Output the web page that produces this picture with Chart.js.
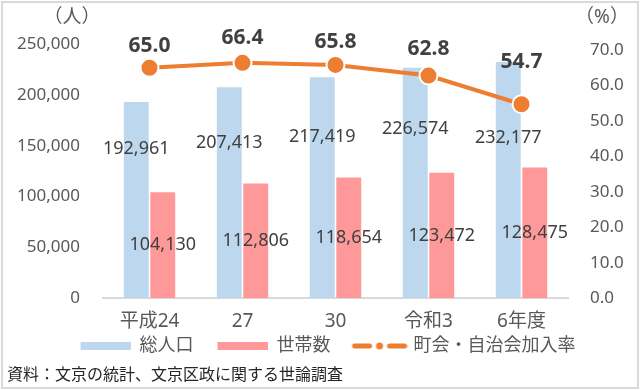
<!DOCTYPE html>
<html>
<head>
<meta charset="utf-8">
<script src="https://cdn.jsdelivr.net/npm/chart.js@4"></script>
<style>
  html, body { margin: 0; padding: 0; background: #fff; }
  #wrap { position: relative; width: 640px; height: 390px; }
</style>
</head>
<body>
<div id="wrap"><canvas id="chart" width="640" height="390"></canvas></div>
<script>
const years = ["平成24", "27", "30", "令和3", "6年度"];
const population = [192961, 207413, 217419, 226574, 232177];
const households = [104130, 112806, 118654, 123472, 128475];
const joinRate = [65.0, 66.4, 65.8, 62.8, 54.7];

const FONT = "'Noto Sans', 'Noto Sans CJK JP', sans-serif";
const BLUE = "#BDD7EE";
const PINK = "#FF9999";
const ORANGE = "#ED7D31";

// label tweaks (pixels), copied by eye from the original
const popLabelDrop = [47, 56, 60, 61, 76];
const rateLabelLift = [22, 25, 23, 27, 42];

// legend icons, left part kept empty so items get some air between them
function swatch(w, draw) {
  const c = document.createElement("canvas");
  c.width = w;
  c.height = 10;
  draw(c.getContext("2d"));
  return c;
}

const blueBox = swatch(70, g => { g.fillStyle = BLUE; g.fillRect(20, 1, 50, 8); });
const pinkBox = swatch(70, g => { g.fillStyle = PINK; g.fillRect(20, 1, 50, 8); });
const lineBox = swatch(76, g => {
  g.strokeStyle = ORANGE;
  g.fillStyle = ORANGE;
  g.lineWidth = 5;
  g.lineCap = "round";
  g.beginPath(); g.moveTo(23, 5); g.lineTo(38, 5); g.stroke();
  g.beginPath(); g.moveTo(58, 5); g.lineTo(73, 5); g.stroke();
  g.beginPath(); g.arc(48, 5, 3.5, 0, Math.PI * 2); g.fill();
});

const extras = {
  id: "extras",
  beforeDraw(chart) {
    const ctx = chart.ctx;
    ctx.save();
    ctx.fillStyle = "#fff";
    ctx.fillRect(0, 0, chart.width, chart.height);
    ctx.strokeStyle = "#D9D9D9";
    ctx.lineWidth = 2;
    ctx.strokeRect(2, 2, chart.width - 4, chart.height - 4);
    ctx.restore();
  },
  afterDatasetsDraw(chart) {
    const ctx = chart.ctx;
    ctx.save();
    ctx.textAlign = "center";
    ctx.textBaseline = "middle";

    ctx.fillStyle = "#404040";
    ctx.font = "18px " + FONT;
    chart.getDatasetMeta(0).data.forEach((bar, i) => {
      ctx.fillText(population[i].toLocaleString("en-US"), bar.x, bar.y + popLabelDrop[i]);
    });
    chart.getDatasetMeta(1).data.forEach((bar, i) => {
      ctx.fillText(households[i].toLocaleString("en-US"), bar.x, (bar.y + bar.base) / 2);
    });

    ctx.font = "bold 21px " + FONT;
    chart.getDatasetMeta(2).data.forEach((pt, i) => {
      ctx.fillText(joinRate[i].toFixed(1), pt.x, pt.y - rateLabelLift[i]);
    });

    // axis unit captions
    ctx.fillStyle = "#595959";
    ctx.font = "19px " + FONT;
    ctx.fillText("（人）", 72, 18);
    ctx.fillText("（%）", 602, 18);

    // source note
    ctx.textAlign = "left";
    ctx.fillStyle = "#262626";
    ctx.font = "16px " + FONT;
    ctx.fillText("資料：文京の統計、文京区政に関する世論調査", 7, 375);
    ctx.restore();
  }
};

new Chart(document.getElementById("chart"), {
  data: {
    labels: years,
    datasets: [
      {
        type: "bar",
        label: "総人口",
        data: population,
        backgroundColor: BLUE,
        yAxisID: "y",
        order: 2,
        categoryPercentage: 0.57,
        barPercentage: 0.94
      },
      {
        type: "bar",
        label: "世帯数",
        data: households,
        backgroundColor: PINK,
        yAxisID: "y",
        order: 2,
        categoryPercentage: 0.57,
        barPercentage: 0.94
      },
      {
        type: "line",
        label: "町会・自治会加入率",
        data: joinRate,
        borderColor: ORANGE,
        borderWidth: 4,
        pointRadius: 9,
        pointBackgroundColor: ORANGE,
        pointBorderColor: "#fff",
        pointBorderWidth: 2,
        yAxisID: "y1",
        order: 0
      }
    ]
  },
  options: {
    responsive: false,
    animation: false,
    layout: {
      padding: { left: 8, right: 12, top: 44, bottom: 25 }
    },
    plugins: {
      tooltip: { enabled: false },
      legend: {
        position: "bottom",
        labels: {
          usePointStyle: true,
          pointStyleWidth: 70,
          padding: 4,
          color: "#595959",
          font: { family: FONT, size: 18 },
          generateLabels(chart) {
            const icons = [blueBox, pinkBox, lineBox];
            return chart.data.datasets.map((ds, i) => ({
              text: ds.label,
              pointStyle: icons[i],
              fillStyle: "transparent",
              strokeStyle: "transparent",
              lineWidth: 0,
              fontColor: "#595959",
              datasetIndex: i
            }));
          }
        }
      }
    },
    scales: {
      x: {
        grid: { display: false },
        border: { display: true, color: "#D9D9D9", width: 2 },
        ticks: { color: "#595959", padding: 4, font: { family: FONT, size: 19 } },
        afterFit(scale) { scale.height -= 4; }
      },
      y: {
        position: "left",
        min: 0,
        max: 250000,
        grid: { display: false },
        border: { display: false },
        ticks: {
          stepSize: 50000,
          padding: 15,
          color: "#595959",
          font: { family: FONT, size: 17 },
          callback: v => v.toLocaleString("en-US")
        },
        afterFit(scale) { scale.width = 95; }
      },
      y1: {
        position: "right",
        min: 0,
        max: 71.7,
        grid: { display: false },
        border: { display: false },
        ticks: {
          stepSize: 10,
          includeBounds: false,
          padding: 14,
          color: "#595959",
          font: { family: FONT, size: 17 },
          callback: v => v.toFixed(1)
        },
        afterFit(scale) { scale.width = 60; }
      }
    }
  },
  plugins: [extras]
});
</script>
</body>
</html>
